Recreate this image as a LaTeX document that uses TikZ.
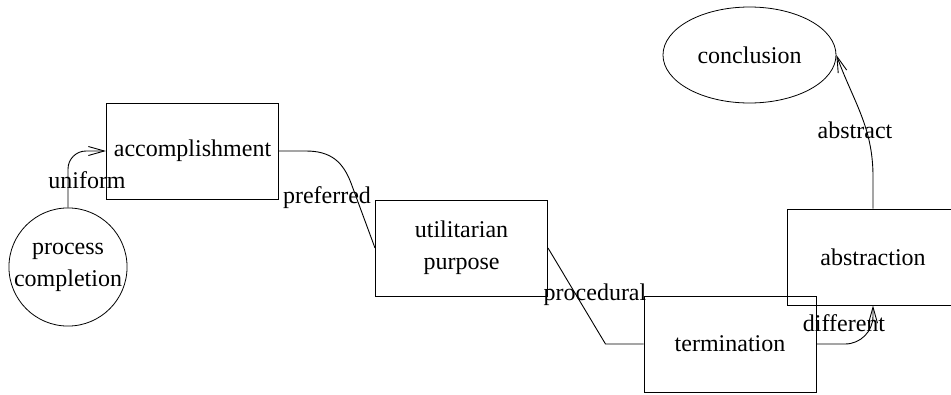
\documentclass[tikz,border=0pt]{standalone}
\usepackage{fontspec}
\setmainfont{Liberation Serif}
\usetikzlibrary{arrows.meta, positioning, calc, shapes.geometric}

\begin{document}
\begin{tikzpicture}[x=1pt, y=-1pt,
    font=\fontsize{24}{32}\selectfont,
    box/.style={draw, line width=1pt, minimum width=172pt, minimum height=96pt, align=center, inner sep=0pt},
    round/.style={draw, circle, line width=0.8pt, minimum size=116pt, align=center, inner sep=0pt},
    oval/.style={draw, ellipse, line width=0.8pt, minimum width=173pt, minimum height=96pt, inner sep=0pt},
    edge/.style={line width=0.9pt},
    arr/.style={-{Straight Barb[length=16pt, width=9pt]}},
    lbl/.style={inner sep=0pt}]
\useasboundingbox (0,0) rectangle (951,394);
\clip (0,0) rectangle (951,394);

%% nodes
\node[round] (pc) at (68,267) {process\\completion};
\node[box] (acc) at (192.5,151) {accomplishment};
\node[box] (util) at (461.5,248) {utilitarian\\purpose};
\node[box] (term) at (730,344) {termination};
\node[box] (abs) at (873,257) {abstraction};
\node[oval] (con) at (749.5,55) {conclusion};

%% connectors
\draw[edge, arr, rounded corners=18pt] (pc.north) |- (acc.west);
\draw[edge] (acc.east) -- ($(acc.east)+(27,0)$)
  .. controls ($(acc.east)+(52,0)$) and ($(acc.east)+(64,11)$) .. ($(acc.east)+(72,32)$)
  -- (util.west);
\draw[edge] (util.east) -- ($(term.west)+(-38,0)$) -- (term.west);
\draw[edge, arr, rounded corners=28pt] (term.east) -| (abs.south);
\draw[edge, arr] (abs.north) -- ++(0,-32) to[out=90, in=-70] (con.east);

%% labels
\node[lbl] (l-uniform) at (87,180) {uniform};
\node[lbl] (l-preferred) at (327,198) {preferred};
\node[lbl] (l-procedural) at (595,295) {procedural};
\node[lbl] (l-different) at (844,323) {different};
\node[lbl] (l-abstract) at (855,130) {abstract};
\end{tikzpicture}
\end{document}
